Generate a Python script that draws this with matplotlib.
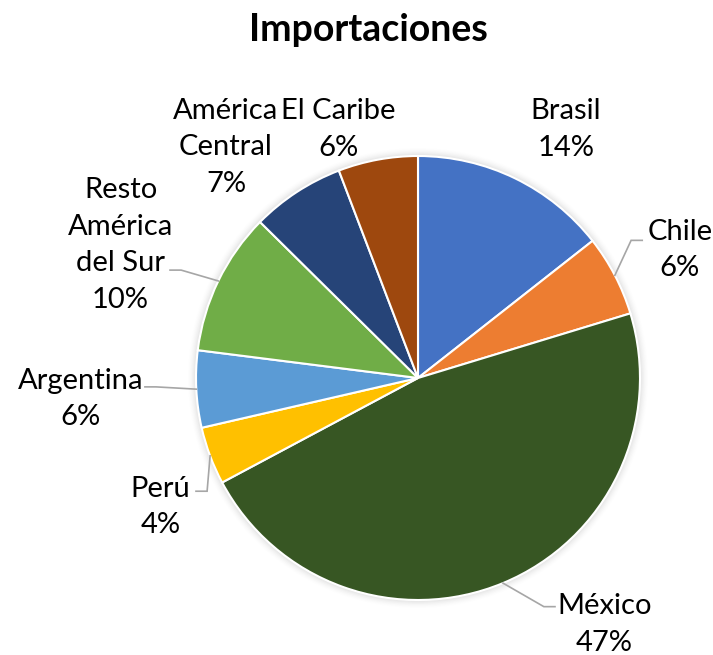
import numpy as np
import matplotlib
matplotlib.use("Agg")
import matplotlib.pyplot as plt

plt.rcParams['font.family'] = ['Lato', 'DejaVu Sans']

categories = ["Brasil", "Chile", "México", "Perú", "Argentina",
              "Resto\nAmérica\ndel Sur", "América\nCentral", "El Caribe"]
values = [14.4, 5.9, 46.9, 4.2, 5.6, 10.4, 6.8, 5.8]
pct_labels = ["14%", "6%", "47%", "4%", "6%", "10%", "7%", "6%"]
colors = ["#4472C4", "#ED7D31", "#375623", "#FFC000", "#5B9BD5",
          "#70AD47", "#264478", "#9E480E"]

# label centres (data units, pie radius = 1)
label_pos = [(0.665, 1.12), (1.18, 0.577), (0.84, -1.11), (-1.16, -0.58),
             (-1.52, -0.095), (-1.34, 0.60), (-0.865, 1.04), (-0.36, 1.12)]
# leader anchor at label edge (None = no leader)
leader_anchor = [None, (1.01, 0.62), (0.617, -1.03), (-1.0, -0.51),
                 (-1.23, -0.04), (-1.117, 0.486), None, None]

W, H = 713, 655
fig = plt.figure(figsize=(W / 100, H / 100), dpi=100)
R = 222.0
cx, cy = 418.0, 378.0
ax = fig.add_axes([0, 0, 1, 1])

# soft shadow
for i, a in enumerate(np.linspace(0.05, 0.01, 6)):
    c = plt.Circle((0, 0), 1.0 + 0.006 * (i + 1), color='#808080', alpha=a, lw=0, zorder=0)
    ax.add_patch(c)

wedges, _ = ax.pie(values, colors=colors, startangle=90, counterclock=False,
                   radius=1.0, center=(0, 0),
                   wedgeprops=dict(edgecolor='white', linewidth=1.5), frame=True)
ax.set_xlim(-cx / R, (W - cx) / R)
ax.set_ylim(-(H - cy) / R, cy / R)
ax.set_aspect('equal')
ax.axis('off')

total = sum(values)
cum = 0.0
for i, v in enumerate(values):
    mid = (cum + v / 2) / total * 360.0
    cum += v
    theta = np.deg2rad(90 - mid)
    px, py = np.cos(theta), np.sin(theta)
    lx, ly = label_pos[i]
    ax.text(lx, ly, categories[i] + "\n" + pct_labels[i], ha='center', va='center',
            fontsize=21, color='black', linespacing=1.5)
    anc = leader_anchor[i]
    if anc is not None:
        ax_, ay_ = anc
        ex = ax_ + (-0.05 if ax_ > px else 0.05)
        ax.plot([ax_, ex, px], [ay_, ay_, py], color='#A6A6A6', lw=1.2,
                solid_joinstyle='miter', zorder=1)

fig.text(368 / W, 1 - 30 / H, "Importaciones", ha='center', va='center',
         fontsize=27, fontweight='bold', color='black')

fig.savefig("out.png", dpi=100)
